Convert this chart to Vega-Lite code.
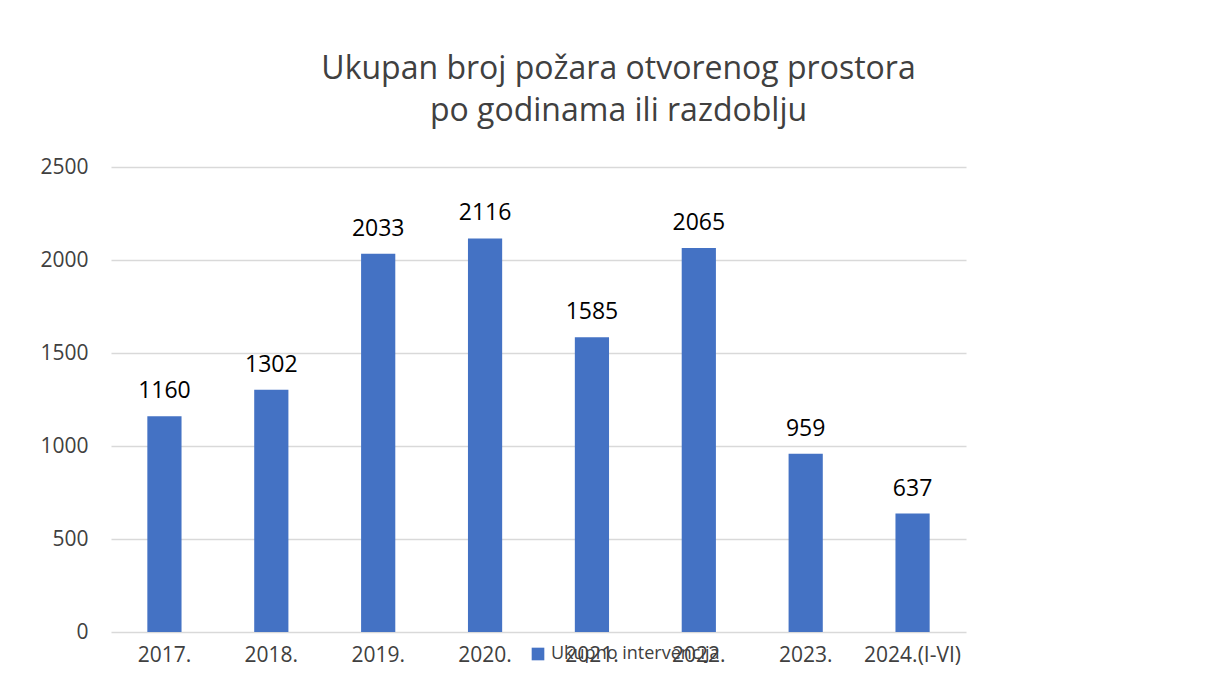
{
  "$schema": "https://vega.github.io/schema/vega-lite/v6.json",
  "autosize": "none",
  "width": 855,
  "height": 465,
  "padding": {"left": 111, "top": 167, "right": 252, "bottom": 65},
  "background": "white",
  "title": {
    "text": ["Ukupan broj požara otvorenog prostora", "po godinama ili razdoblju"],
    "font": "Open Sans",
    "fontSize": 32,
    "fontWeight": "normal",
    "color": "#404040",
    "lineHeight": 42,
    "anchor": "middle",
    "frame": "group",
    "dx": 80,
    "offset": 28
  },
  "data": {
    "values": [
      {"godina": "2017.", "broj": 1160, "serija": "Ukupno intervencija"},
      {"godina": "2018.", "broj": 1302, "serija": "Ukupno intervencija"},
      {"godina": "2019.", "broj": 2033, "serija": "Ukupno intervencija"},
      {"godina": "2020.", "broj": 2116, "serija": "Ukupno intervencija"},
      {"godina": "2021.", "broj": 1585, "serija": "Ukupno intervencija"},
      {"godina": "2022.", "broj": 2065, "serija": "Ukupno intervencija"},
      {"godina": "2023.", "broj": 959, "serija": "Ukupno intervencija"},
      {"godina": "2024.(I-VI)", "broj": 637, "serija": "Ukupno intervencija"}
    ]
  },
  "encoding": {
    "x": {
      "field": "godina",
      "type": "nominal",
      "sort": null,
      "scale": {"paddingInner": 0.68, "paddingOuter": 0.34},
      "axis": {
        "title": null,
        "labelAngle": 0,
        "labelFont": "Open Sans",
        "labelFontSize": 21,
        "labelColor": "#404040",
        "labelPadding": 12,
        "ticks": false,
        "domain": false
      }
    },
    "y": {
      "field": "broj",
      "type": "quantitative",
      "scale": {"domain": [0, 2500]},
      "axis": {
        "title": null,
        "values": [0, 500, 1000, 1500, 2000, 2500],
        "format": "d",
        "labelFont": "Open Sans",
        "labelFontSize": 21,
        "labelColor": "#404040",
        "labelPadding": 23,
        "ticks": false,
        "domain": false,
        "gridColor": "#D9D9D9",
        "gridWidth": 1.5
      }
    }
  },
  "layer": [
    {
      "mark": {"type": "bar"},
      "encoding": {
        "color": {
          "field": "serija",
          "type": "nominal",
          "scale": {"range": ["#4472C4"]},
          "legend": {
            "title": null,
            "orient": "none",
            "legendX": 418,
            "legendY": 478,
            "symbolType": "square",
            "symbolSize": 160,
            "labelFont": "Open Sans",
            "labelFontSize": 18,
            "labelColor": "#404040",
            "labelOffset": 4,
            "labelLimit": 400
          }
        }
      }
    },
    {
      "mark": {
        "type": "text",
        "font": "Open Sans",
        "fontSize": 23,
        "color": "#000000",
        "baseline": "alphabetic",
        "dy": -18
      },
      "encoding": {"text": {"field": "broj", "type": "quantitative"}}
    }
  ],
  "config": {"view": {"stroke": null}}
}
